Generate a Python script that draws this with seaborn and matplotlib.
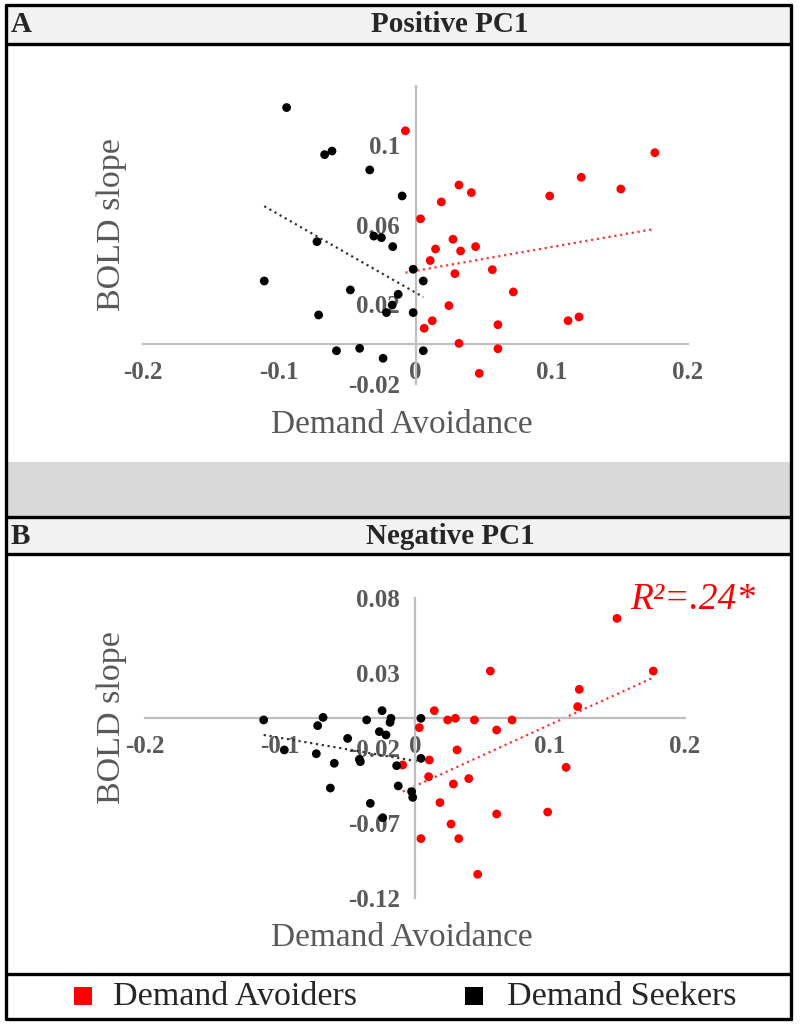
import numpy as np
import pandas as pd
import matplotlib
matplotlib.use('Agg')
import matplotlib.pyplot as plt
from matplotlib.patches import Rectangle
import seaborn as sns

# --- datos ---
a_seek_x = [-0.0946, -0.0667, -0.0613, -0.0336, -0.0098, -0.0723, -0.0306, -0.025, -0.0167, -0.0017, 0.0057,
            -0.111, -0.0478, -0.0127, -0.0171, -0.0213, -0.0711, -0.0017, -0.058, -0.041, -0.0238, 0.0057]
a_seek_y = [0.119, 0.0953, 0.0971, 0.0876, 0.0745, 0.0515, 0.0543, 0.0535, 0.049, 0.0376, 0.0317,
            0.0317, 0.0272, 0.025, 0.0196, 0.0158, 0.0146, 0.0158, -0.0034, -0.0022, -0.0072, -0.0034]
a_avoid_x = [-0.0074, 0.1757, 0.1216, 0.1507, 0.0985, 0.0319, 0.041, 0.0189, 0.0037, 0.0275, 0.0441, 0.0331, 0.0147,
             0.0108, 0.0564, 0.0289, 0.0718, 0.0245, 0.0123, 0.0064, 0.0605, 0.112, 0.12, 0.0319, 0.0605, 0.0468]
a_avoid_y = [0.1073, 0.0963, 0.0839, 0.078, 0.0745, 0.08, 0.0762, 0.0715, 0.063, 0.0527, 0.049, 0.0468, 0.0478,
             0.042, 0.0374, 0.0354, 0.0262, 0.0193, 0.0117, 0.0079, 0.0097, 0.0117, 0.0136, 0.0003, -0.0024, -0.0148]

b_seek_x = [-0.1121, -0.0968, -0.0721, -0.0681, -0.0731, -0.0598, -0.0627, -0.0499, -0.0412, -0.0405, -0.0358, -0.0244,
            -0.0264, -0.0215, -0.0185, -0.0178, -0.0136, -0.0124, -0.0331, -0.0239, -0.0025, -0.0017, 0.0044, 0.0044]
b_seek_y = [-0.0013, -0.0213, -0.0051, 0.0004, -0.0238, -0.0302, -0.0467, -0.0136, -0.0276, -0.0291, -0.0013, 0.0049,
            -0.0091, -0.0113, -0.0029, -0.0002, -0.0318, -0.0453, -0.0569, -0.0665, -0.0491, -0.0529, -0.0269, -0.0002]
b_avoid_x = [0.1496, 0.1765, 0.0558, 0.1217, 0.1205, 0.0143, 0.0242, 0.0299, 0.044, 0.0719, 0.0605, 0.0032, 0.0311,
             0.0106, 0.1119, 0.0101, 0.0398, 0.0284, 0.0185, 0.0605, 0.0983, 0.0267, 0.0044, 0.0324, 0.0464, -0.0091]
b_avoid_y = [0.0664, 0.0313, 0.0313, 0.0191, 0.0076, 0.0049, -0.0013, -0.0002, -0.0013, -0.0013, -0.008, -0.0064, -0.0213,
             -0.028, -0.0329, -0.0391, -0.0404, -0.044, -0.0564, -0.064, -0.0627, -0.0707, -0.0804, -0.0804, -0.1042, -0.0313]

x_ticks = [-0.2, -0.1, 0, 0.1, 0.2]
x_labels = ['-0.2', '-0.1', '0', '0.1', '0.2']
a_y_ticks = [-0.02, 0.02, 0.06, 0.1]
a_y_labels = ['-0.02', '0.02', '0.06', '0.1']
b_y_ticks = [-0.12, -0.07, -0.02, 0.03, 0.08]
b_y_labels = ['-0.12', '-0.07', '-0.02', '0.03', '0.08']

groups = ['Demand Avoiders', 'Demand Seekers']
colors = {'Demand Avoiders': '#ff0000', 'Demand Seekers': '#000000'}
line_colors = {'Demand Avoiders': '#ff3333', 'Demand Seekers': '#333333'}

sns.set_style('white')
plt.rcParams['font.family'] = ['Liberation Serif', 'DejaVu Serif']

W, H = 800, 1026
fig = plt.figure(figsize=(W / 100, H / 100), dpi=100)

# fondo en coordenadas de pixel
bg = fig.add_axes([0, 0, 1, 1])
bg.set_xlim(0, W)
bg.set_ylim(H, 0)
bg.axis('off')

def band(y0, y1, color):
    bg.add_patch(Rectangle((6, y0), 786, y1 - y0, facecolor=color, edgecolor='none'))

def hline(y):
    bg.plot([6, 792], [y, y], color='black', lw=2.4, solid_capstyle='butt')

band(6, 44, '#f2f2f2')
band(462, 516, '#d9d9d9')
band(518, 554, '#f2f2f2')
for yy in [5, 44, 517, 554, 974, 1019]:
    hline(yy)
bg.plot([6, 6], [5, 1019], color='black', lw=2.4)
bg.plot([791, 791], [5, 1019], color='black', lw=2.4)

bg.text(11, 25, 'A', fontsize=21, fontweight='bold', va='center', ha='left')
bg.text(450, 25, 'Positive PC1', fontsize=21, fontweight='bold', va='center', ha='center')
bg.text(11, 536, 'B', fontsize=21, fontweight='bold', va='center', ha='left')
bg.text(450, 536, 'Negative PC1', fontsize=21, fontweight='bold', va='center', ha='center')

# leyenda
bg.add_patch(Rectangle((74, 987), 18, 18, facecolor=colors['Demand Avoiders'], edgecolor='none'))
bg.text(113, 997, 'Demand Avoiders', fontsize=24.5, va='center', ha='left')
bg.add_patch(Rectangle((465, 987), 18, 18, facecolor=colors['Demand Seekers'], edgecolor='none'))
bg.text(507, 997, 'Demand Seekers', fontsize=24.5, va='center', ha='left')

gray = '#595959'

def make_panel(rect_px, xs, ys, yticks, ylabels, ylim, ylab_y, xlab_y):
    left, top, right, bottom = rect_px
    ax = fig.add_axes([left / W, 1 - bottom / H, (right - left) / W, (bottom - top) / H])
    ax.set_facecolor('none')
    df = pd.DataFrame({
        'x': xs[0] + xs[1],
        'y': ys[0] + ys[1],
        'group': [groups[0]] * len(xs[0]) + [groups[1]] * len(xs[1]),
    })
    sns.scatterplot(data=df, x='x', y='y', hue='group', palette=colors, s=40,
                    edgecolor='none', legend=False, ax=ax, zorder=3)
    for g in groups:
        sub = df[df['group'] == g]
        sns.regplot(data=sub, x='x', y='y', scatter=False, ci=None, ax=ax,
                    line_kws=dict(color=line_colors[g], ls=':', lw=1.6))
    ax.set_xlim(-0.2, 0.2)
    ax.set_ylim(*ylim)
    for s in ['top', 'right']:
        ax.spines[s].set_visible(False)
    ax.spines['left'].set_position(('data', 0))
    ax.spines['bottom'].set_position(('data', 0))
    for s in ['left', 'bottom']:
        ax.spines[s].set_color('#bfbfbf')
        ax.spines[s].set_linewidth(1.6)
    ax.set_xticks(x_ticks)
    ax.set_xticklabels(x_labels)
    ax.set_yticks(yticks)
    ax.set_yticklabels(ylabels)
    ax.tick_params(axis='x', length=0, pad=12, labelsize=18, labelcolor=gray)
    ax.tick_params(axis='y', length=0, pad=11, labelsize=18, labelcolor=gray)
    for lab in ax.get_xticklabels() + ax.get_yticklabels():
        lab.set_fontweight('bold')
    ax.set_xlabel('')
    ax.set_ylabel('')
    bg.text(112, ylab_y, 'BOLD slope', fontsize=24.5, color=gray, rotation=90, va='center', ha='center')
    bg.text(402, xlab_y, 'Demand Avoidance', fontsize=24, color=gray, va='center', ha='center')
    return ax

ax_a = make_panel((143, 85.7, 688, 383.7), (a_avoid_x, a_seek_x), (a_avoid_y, a_seek_y),
                  a_y_ticks, a_y_labels, (-0.02, 0.13), 225, 425)
ax_b = make_panel((145, 598, 685, 898), (b_avoid_x, b_seek_x), (b_avoid_y, b_seek_y),
                  b_y_ticks, b_y_labels, (-0.12, 0.08), 718, 938)

bg.text(630, 600, 'R²=.24*', fontsize=27, style='italic', color='#ff0000', va='center', ha='left')

fig.savefig('out.png', dpi=100)
